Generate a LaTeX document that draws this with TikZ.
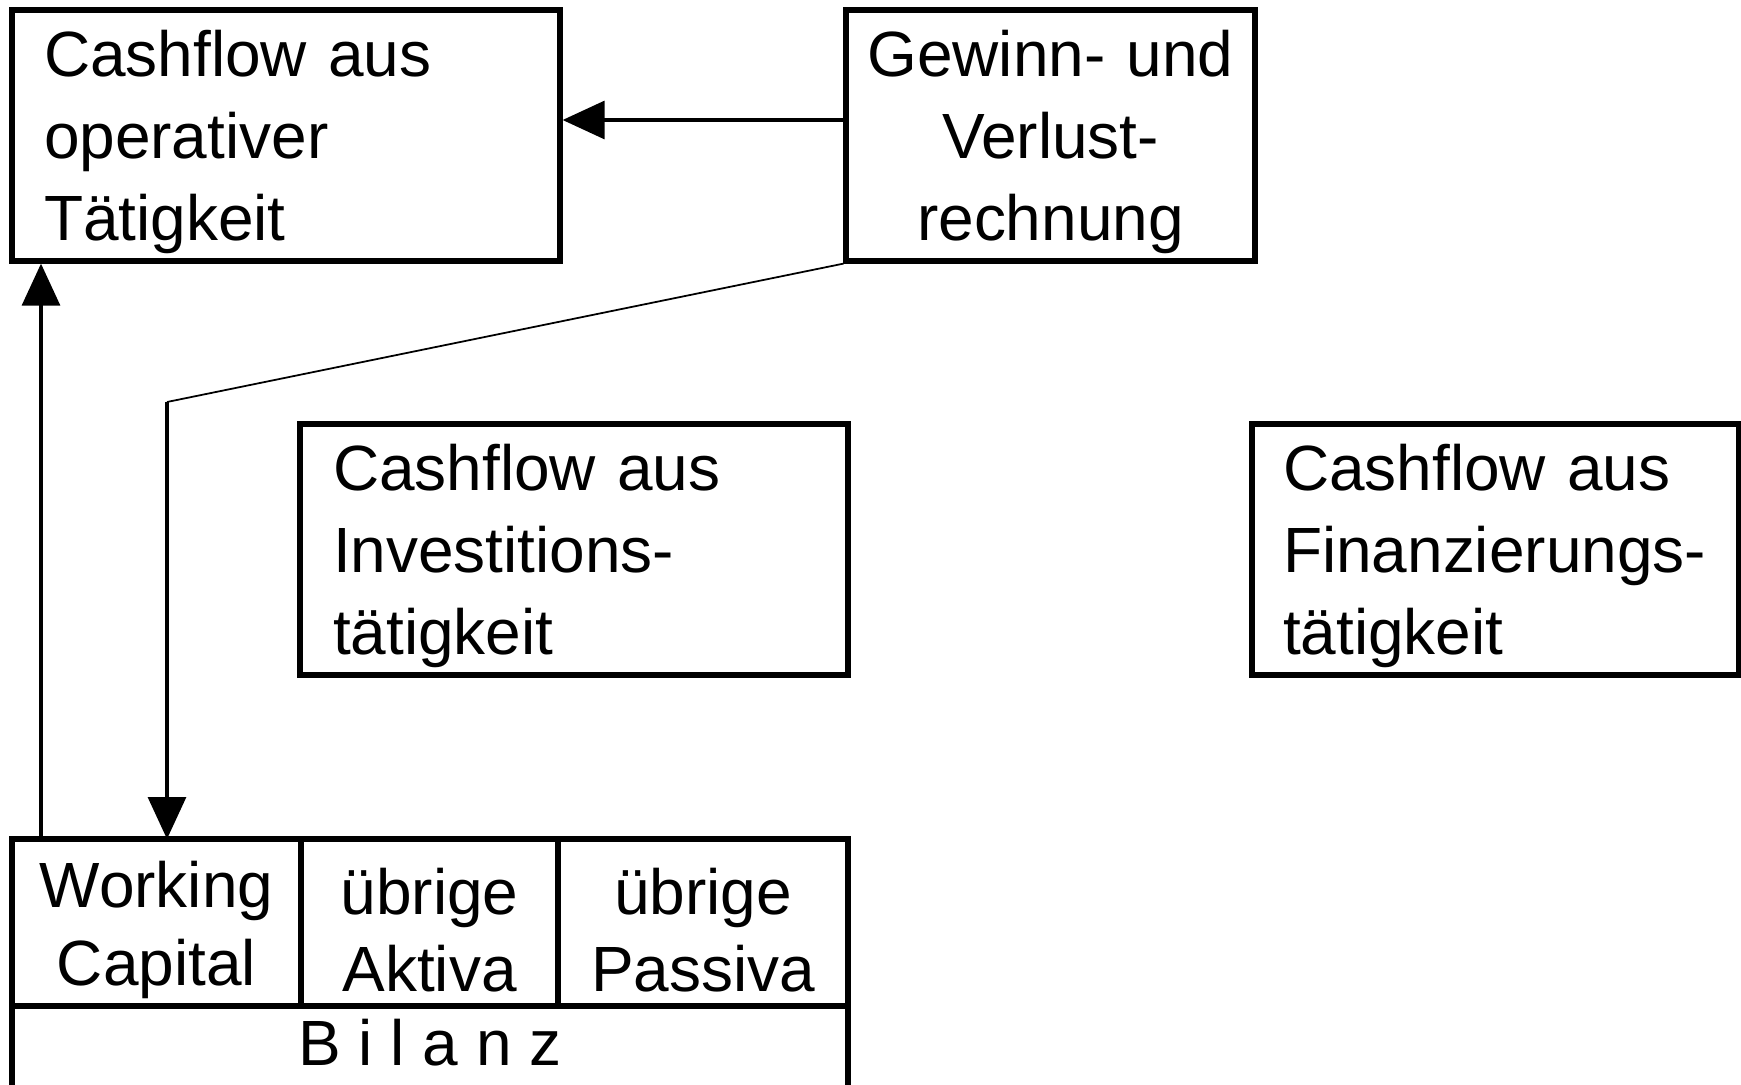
\documentclass[tikz,border=0pt]{standalone}
\usepackage{fontspec}
\setmainfont{Liberation Sans}
\usepackage{tikz}
\usetikzlibrary{arrows.meta, positioning, calc}

\begin{document}
\begin{tikzpicture}[
            font=\fontsize{18.2pt}{23.3pt}\selectfont,
            flow_box/.style={rectangle, draw=black, line width=1.5pt, minimum height=2.51cm, inner xsep=0.32cm, inner ysep=0.05cm, text height=0.6cm, align=left},
            cell/.style={rectangle, draw=black, line width=1.5pt, minimum height=1.67cm, inner sep=0pt, outer sep=0pt, text height=1.39cm, align=center, font=\fontsize{18.2pt}{22.1pt}\selectfont},
            data_flow/.style={-{Triangle[length=0.42cm, width=0.38cm]}, line width=0.9pt},
            thin_flow/.style={line width=0.5pt}
        ]

            \useasboundingbox (0,0) rectangle (17.41,10.84);

% Cashflow boxes
            \node[flow_box, text width=4.84cm] (operativ) at (2.86,9.485) {Cashflow aus\\operativer\\Tätigkeit};
            \node[flow_box, text width=3.69cm, align=center, inner xsep=0.2cm] (guv) at (10.505,9.485) {Gewinn- und\\Verlust-\\rechnung};
            \node[flow_box, text width=4.82cm, inner xsep=0.33cm] (invest) at (5.74,5.345) {Cashflow aus\\Investitions-\\tätigkeit};
            \node[flow_box, text width=4.25cm, inner xsep=0.31cm] (finanz) at (14.955,5.345) {Cashflow aus\\Finanzierungs-\\tätigkeit};

% Bilanz
            \node[cell, minimum width=2.89cm] (wc) at (1.565,1.615) {Working\\Capital};
            \node[cell, minimum width=2.57cm, right=0pt of wc] (aktiva) {übrige\\Aktiva};
            \node[cell, minimum width=2.90cm, right=0pt of aktiva] (passiva) {übrige\\Passiva};
            \node[cell, minimum width=8.36cm, minimum height=0pt, anchor=north west, inner ysep=0.13cm, text height=0.46cm, text depth=1cm] (bilanz) at (wc.south west) {B i l a n z};

% Connectors
            \coordinate (knick) at (1.67,6.82);
            \draw[data_flow] ([yshift=0.155cm]guv.west) -- ([yshift=0.155cm]guv.west -| operativ.east);
            \draw[data_flow] ([xshift=0.29cm]wc.north west) -- ([xshift=0.29cm]wc.north west |- operativ.south);
            \draw[thin_flow] (guv.south west) -- (knick);
            \draw[data_flow] (knick) -- (knick |- wc.north);

        \end{tikzpicture}
\end{document}
